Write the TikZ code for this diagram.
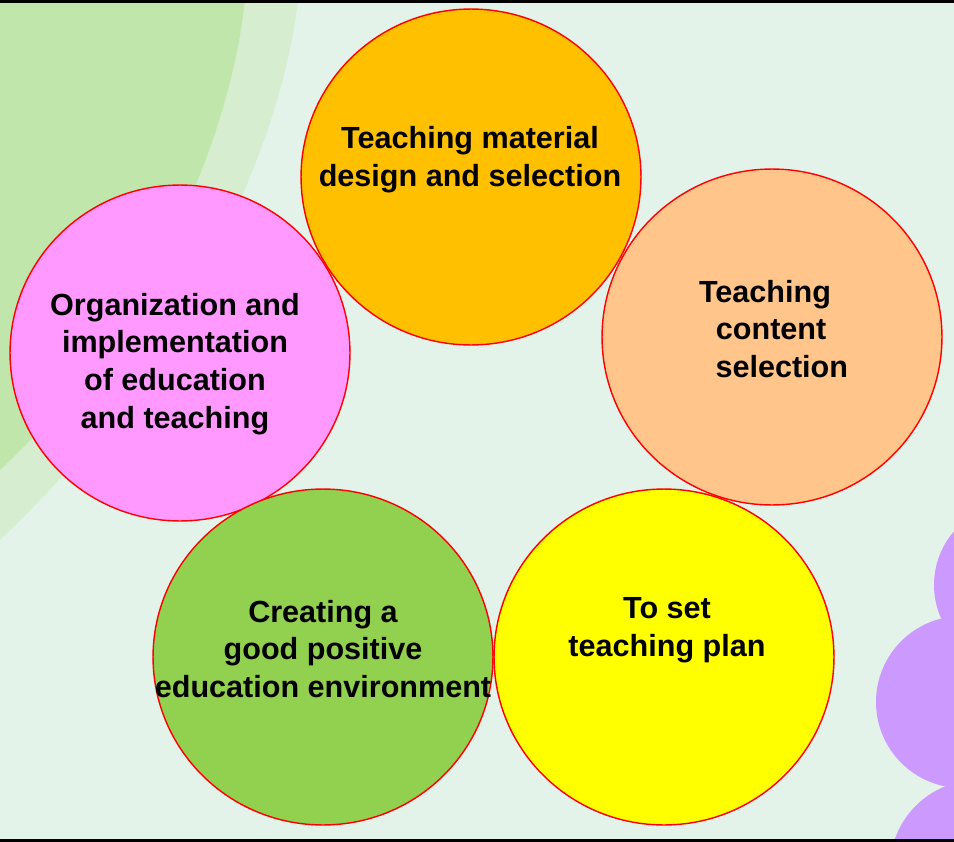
\documentclass[tikz,border=0pt]{standalone}
\usepackage{fontspec}
\setmainfont{Liberation Sans}
\usetikzlibrary{shapes.geometric}
\definecolor{bgmint}{HTML}{E3F3EA}
\definecolor{bgband}{HTML}{D6EECF}
\definecolor{bggreen}{HTML}{C1E6AC}
\definecolor{cloud}{HTML}{CC99FF}
\definecolor{matorange}{HTML}{FFC000}
\definecolor{contpeach}{HTML}{FFC58B}
\definecolor{orgpink}{HTML}{FF99FF}
\definecolor{envgreen}{HTML}{92D050}
\definecolor{planyellow}{HTML}{FFFF00}
\tikzset{
  bubble/.style={ellipse,draw=red,line width=0.8pt,minimum width=6.8cm,
    minimum height=6.72cm,inner sep=0pt},
  caption/.style={align=center,inner sep=0pt,
    font=\bfseries\fontsize{17.4}{21.5}\selectfont}
}
\begin{document}
\begin{tikzpicture}[x=0.02cm,y=-0.02cm]
  \useasboundingbox (0,0) rectangle (954,842);
  % background
  \begin{scope}
  \clip (0,0) rectangle (954,842);
  \fill[bgmint] (0,0) rectangle (954,842);
  \fill[bgband] (0,0)--(298,0) .. controls (280,160) and (170,380) .. (0,540)--cycle;
  \fill[bggreen] (0,0)--(245,0) .. controls (230,140) and (150,330) .. (0,470)--cycle;
  \fill[cloud] (1016,585) circle (82);
  \fill[cloud] (962,702) circle (86);
  \fill[cloud] (978,868) circle (88);
  \fill[black] (0,0) rectangle (954,3);
  \fill[black] (0,839) rectangle (954,842);
  \end{scope}
  % circles
  \node[bubble,fill=orgpink] (org) at (180,353) {};
  \node[bubble,fill=matorange] (material) at (471,177) {};
  \node[bubble,fill=contpeach] (content) at (772,337) {};
  \node[bubble,fill=planyellow] (plan) at (664,657) {};
  \node[bubble,fill=envgreen] (env) at (323,657) {};
  % texts
  \node[caption] (materialtext) at (470,160) {Teaching material\\design and selection};
  \node[caption] (contenttext) at (765,329) {Teaching\\\hspace*{0.4em}content\\\hspace*{1.1em}selection};
  \node[caption] (orgtext) at (175,364) {Organization and\\implementation\\of education\\and teaching};
  \node[caption] (envtext) at (323,649) {Creating a\\good positive\\education environment};
  \node[caption] (plantext) at (667,630) {To set\\teaching plan};
\end{tikzpicture}
\end{document}
